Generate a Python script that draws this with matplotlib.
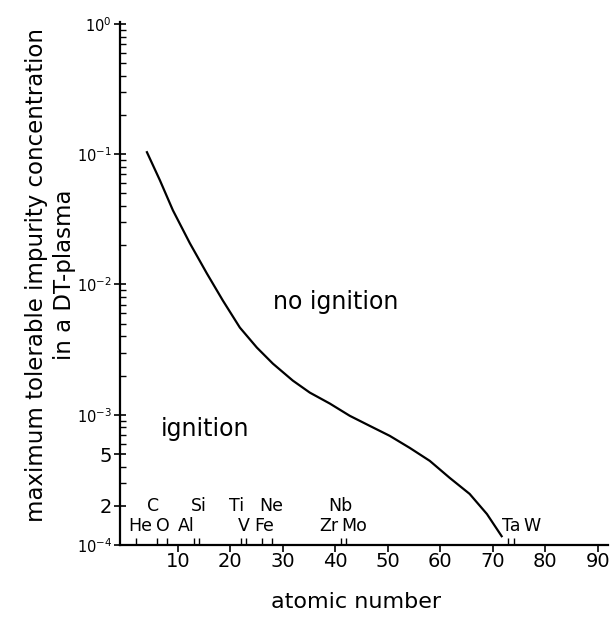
import matplotlib
matplotlib.use("Agg")
import matplotlib.pyplot as plt
import matplotlib.transforms as mtransforms
import numpy as np

# ---- data ----
Z_curve = [4.10, 6.57, 9.05, 12.29, 15.52, 18.57, 21.81, 25.05, 28.10, 31.90,
           35.14, 38.95, 42.76, 46.57, 50.38, 54.19, 58.0, 61.8, 65.6, 68.9, 71.7]
conc_curve = [0.1036, 0.0631, 0.0371, 0.0207, 0.01216, 0.00753, 0.00467, 0.00328,
              0.00247, 0.00183, 0.00148, 0.00122, 0.000982, 0.000822, 0.000689,
              0.000557, 0.000443, 0.000328, 0.000247, 0.000173, 0.000117]

x_ticks = [10, 20, 30, 40, 50, 60, 70, 80, 90]
y_ticks = [1e0, 1e-1, 1e-2, 1e-3, 5e-4, 2e-4, 1e-4]
y_ticklabels = [r"$10^{0}$", r"$10^{-1}$", r"$10^{-2}$",
                r"$10^{-3}$", "5", "2", r"$10^{-4}$"]

elements = ["He", "C", "O", "Al", "Si", "Ti", "V", "Fe", "Ne", "Nb", "Zr", "Mo", "Ta", "W"]
element_Z = [2, 6, 8, 13, 14, 22, 23, 26, 28, 41, 40, 42, 73, 74]
element_row = [0, 1, 0, 0, 1, 1, 0, 0, 1, 1, 0, 0, 0, 0]
# horizontal label nudges (points) for readability
element_dx = [3, -3, -3, -5, 0, -3, -2, 2, -1, 0, -5, 6, 2, 13]

FONT = dict(family="DejaVu Sans")

fig = plt.figure(figsize=(6.10, 6.18), dpi=100)
ax = fig.add_axes([0.197, 0.118, 0.800, 0.846])

ax.plot(Z_curve, conc_curve, color="black", lw=1.6, solid_joinstyle="round")

ax.set_yscale("log")
ax.set_xlim(-1, 92)
ax.set_ylim(1e-4, 1.03)

ax.spines["top"].set_visible(False)
ax.spines["right"].set_visible(False)
ax.spines["left"].set_linewidth(1.6)
ax.spines["bottom"].set_linewidth(1.6)

ax.set_xticks(x_ticks)
ax.set_xticklabels([str(v) for v in x_ticks], fontsize=14, **FONT)
ax.set_xticks(element_Z, minor=True)
ax.tick_params(axis="x", which="major", direction="out", length=5, width=1.2, pad=0)
ax.tick_params(axis="x", which="minor", direction="in", length=5, width=1.0)

ax.set_yticks(y_ticks)
ax.set_yticklabels(y_ticklabels, fontsize=10.5)
ax.yaxis.set_minor_locator(matplotlib.ticker.LogLocator(base=10, subs=np.arange(2, 10)))
ax.yaxis.set_minor_formatter(matplotlib.ticker.NullFormatter())
ax.tick_params(axis="y", which="major", direction="inout", length=8, width=1.2, pad=2)
ax.tick_params(axis="y", which="minor", direction="in", length=4, width=1.0)
for lbl in ax.get_yticklabels():
    if lbl.get_text() in ("5", "2"):
        lbl.set_fontsize(14)

trans = mtransforms.blended_transform_factory(ax.transData, ax.transAxes)
for name, z, row, dx in zip(elements, element_Z, element_row, element_dx):
    ax.annotate(name, xy=(z, 0), xycoords=trans,
                xytext=(dx, 14 if row == 0 else 28), textcoords="offset points",
                ha="center", va="center", fontsize=12.5, **FONT)

ax.text(40, 0.0073, "no ignition", fontsize=17, ha="center", va="center", **FONT)
ax.text(15.1, 7.8e-4, "ignition", fontsize=17, ha="center", va="center", **FONT)

ax.set_xlabel("atomic number", fontsize=16, va="center", **FONT)
ax.xaxis.set_label_coords(0.484, -0.108)
fig.text(0.060, 0.555, "maximum tolerable impurity concentration", rotation=90,
         ha="center", va="center", fontsize=16.5, **FONT)
fig.text(0.106, 0.555, "in a DT-plasma", rotation=90,
         ha="center", va="center", fontsize=16.5, **FONT)

fig.savefig("out.png", dpi=100)
